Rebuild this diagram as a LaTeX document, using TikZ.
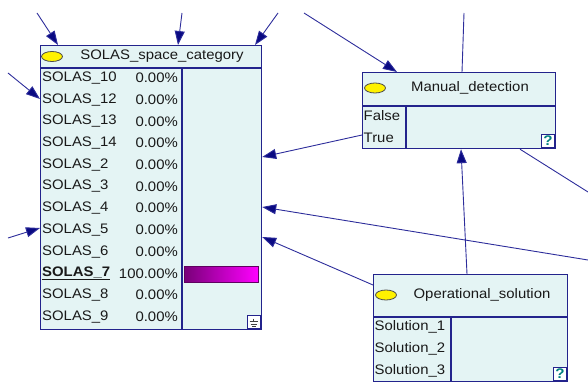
\documentclass[tikz,border=0pt]{standalone}
\usepackage{fontspec}
\setmainfont{Liberation Sans}[FakeStretch=1.08]
\usetikzlibrary{arrows.meta}
\definecolor{boxfill}{RGB}{228,244,244}
\definecolor{boxline}{RGB}{35,35,140}
\definecolor{edgec}{RGB}{45,45,155}
\definecolor{tipc}{RGB}{10,10,130}
\definecolor{qcol}{RGB}{0,128,128}
\definecolor{bardark}{RGB}{120,0,120}
\definecolor{barlight}{RGB}{255,0,255}
\tikzset{
  netbox/.style={draw=boxline, fill=boxfill, line width=1.2pt, anchor=north west, inner sep=0pt},
  sepline/.style={draw=boxline, line width=1.1pt},
  link/.style={draw=edgec, line width=0.9pt},
  arrowlink/.style={link, -{Triangle[length=14pt,width=10pt,fill=tipc]}},
  lbl/.style={font=\fontsize{13.8}{15}\selectfont, inner sep=0pt, text=black!90},
  bulb/.style={draw=black!70, fill=yellow, line width=0.8pt, ellipse, minimum width=21pt, minimum height=10pt, inner sep=0pt},
  qbox/.style={draw=boxline, fill=white, line width=1pt, anchor=south east, minimum width=13pt, minimum height=13pt, inner sep=0pt, font=\fontsize{14}{14}\selectfont\bfseries, text=qcol}
}
\usetikzlibrary{shapes.geometric}
\begin{document}
\begin{tikzpicture}[x=1pt,y=-1pt]
\useasboundingbox (0,0) rectangle (588,382);
% boxes
\node[netbox, minimum width=221pt, minimum height=284pt] (solas) at (40,45) {};
\node[netbox, minimum width=193pt, minimum height=76pt] (md) at (362,72) {};
\node[netbox, minimum width=194pt, minimum height=107pt] (os) at (373,274) {};
% SOLAS internals
\draw[sepline] (40,68) -- (261,68);
\draw[sepline] (182,68) -- (182,329);
\node[bulb] (sb) at (52,56.5) {};
\node[lbl] (st) at (162,56.5) {SOLAS\_space\_category};
\foreach \n/\p [count=\i from 0] in {SOLAS\_10/0.00\%,SOLAS\_12/0.00\%,SOLAS\_13/0.00\%,SOLAS\_14/0.00\%,SOLAS\_2/0.00\%,SOLAS\_3/0.00\%,SOLAS\_4/0.00\%,SOLAS\_5/0.00\%,SOLAS\_6/0.00\%,X/100.00\%,SOLAS\_8/0.00\%,SOLAS\_9/0.00\%}{
  \ifnum\i=9
    \node[lbl, anchor=west] (sl\i) at (42,{78+\i*21.7}) {\underline{\textbf{SOLAS\_7}}};
  \else
    \node[lbl, anchor=west] (sl\i) at (42,{78+\i*21.7}) {\n};
  \fi
  \node[lbl, anchor=east] (sp\i) at (178,{78+\i*21.7}) {\p};
}
\shade[left color=bardark, right color=barlight] (184,266) rectangle (258,282);
\draw[draw=bardark!80!black, line width=0.6pt] (184,266) rectangle (258,282);
\node[qbox] (gnd) at (260.5,328.5) {};
\draw[black!75, line width=0.8pt] (253.8,318.5) -- (253.8,321.5)
  (249.5,321.5) -- (258,321.5) (250.5,324) -- (257,324) (252,326.3) -- (255.5,326.3);
% Manual_detection internals
\draw[sepline] (362,106) -- (555,106);
\draw[sepline] (406,106) -- (406,148);
\node[bulb] (mb) at (375,88) {};
\node[lbl] (mt) at (470,88) {Manual\_detection};
\node[lbl, anchor=west] (mf) at (363.5,116) {False};
\node[lbl, anchor=west] (mtr) at (363.5,138) {True};
\node[qbox] (mq) at (555,148) {?};
% Operational_solution internals
\draw[sepline] (373,317) -- (567,317);
\draw[sepline] (451,317) -- (451,381);
\node[bulb] (ob) at (386,295) {};
\node[lbl] (ot) at (482,295) {Operational\_solution};
\node[lbl, anchor=west] (o1) at (374.5,327) {Solution\_1};
\node[lbl, anchor=west] (o2) at (374.5,349) {Solution\_2};
\node[lbl, anchor=west] (o3) at (374.5,371) {Solution\_3};
\node[qbox] (oq) at (567,381) {?};
% free ends
\coordinate (e1) at (37,13);
\coordinate (e2) at (182,13);
\coordinate (e3) at (278,13);
\coordinate (e4) at (8,73);
\coordinate (e5) at (8,238);
\coordinate (e7) at (588,260);
\coordinate (e10) at (464,13);
\coordinate (e11) at (588,192);
\coordinate (e12) at (304,13);
% connectors
\draw[arrowlink] (e1) -- ([xshift=18pt]solas.north west);
\draw[arrowlink] (e2) -- ([xshift=138pt]solas.north west);
\draw[arrowlink] (e3) -- ([xshift=215pt]solas.north west);
\draw[arrowlink] (e4) -- ([yshift=-54pt]solas.north west);
\draw[arrowlink] (e5) -- ([yshift=-183pt]solas.north west);
\draw[arrowlink] ([yshift=-63pt]md.north west) -- ([yshift=-112pt]solas.north east);
\draw[arrowlink] (e7) -- ([yshift=-162pt]solas.north east);
\draw[arrowlink] ([yshift=-11pt]os.north west) -- ([yshift=-192pt]solas.north east);
\draw[arrowlink] ([xshift=94pt]os.north west) -- ([xshift=99pt]md.south west);
\draw[link] (e10) -- ([xshift=100pt]md.north west);
\draw[link] ([xshift=158pt]md.south west) -- (e11);
\draw[arrowlink] (e12) -- ([xshift=35pt]md.north west);
\end{tikzpicture}
\end{document}
